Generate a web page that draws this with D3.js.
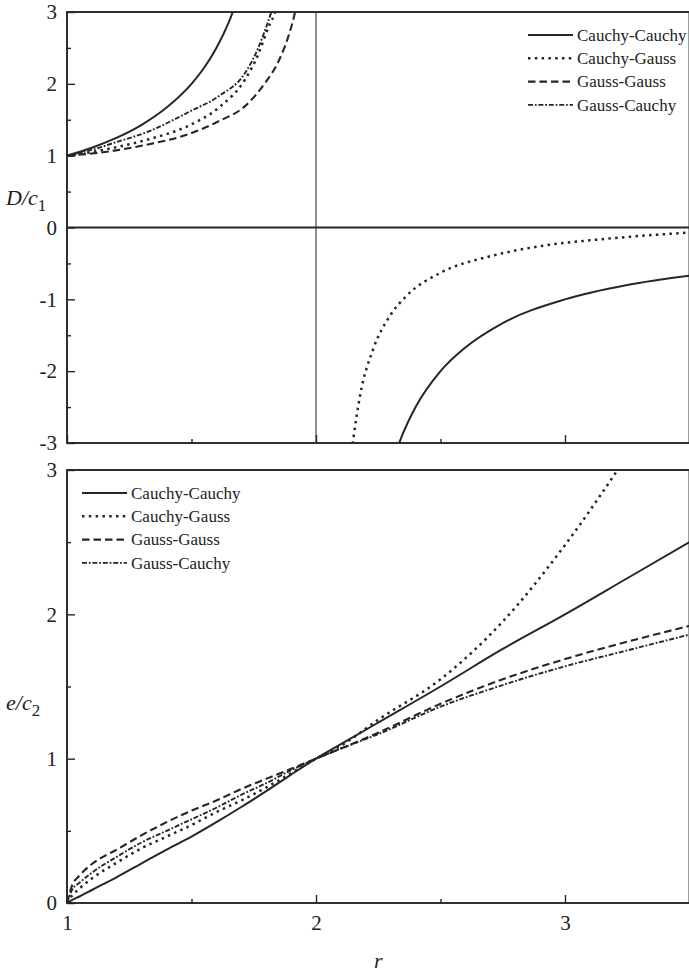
<!DOCTYPE html>
<html>
<head>
<meta charset="utf-8">
<script src="https://cdn.jsdelivr.net/npm/d3@7"></script>
<style>
  html, body { margin: 0; padding: 0; background: #fff; }
  svg { display: block; }
  text { font-family: "Liberation Serif", "DejaVu Serif", serif; fill: #222; }
</style>
</head>
<body>
<svg id="chart" width="689" height="973"></svg>
<script>
// ---- series names (legend order) ----
const seriesNames = ["Cauchy-Cauchy", "Cauchy-Gauss", "Gauss-Gauss", "Gauss-Cauchy"];

// ---- upper panel: D/c1 versus r ----
// Cauchy-Cauchy, branch r < 2 and branch r > 2
const rCCLeft  = [1, 1.1, 1.2, 1.3, 1.4, 1.5, 1.55, 1.6, 1.65, 1.7];
const dCCLeft  = [1, 1.11, 1.25, 1.43, 1.67, 2.0, 2.22, 2.5, 2.86, 3.33];
const rCCRight = [2.3, 2.35, 2.4, 2.5, 2.6, 2.75, 3.0, 3.25, 3.5];
const dCCRight = [-3.33, -2.86, -2.5, -2.0, -1.67, -1.33, -1.0, -0.8, -0.67];
// Cauchy-Gauss
const rCGLeft  = [1, 1.1, 1.2, 1.33, 1.49, 1.61, 1.715, 1.768, 1.808, 1.84, 1.85];
const dCGLeft  = [1, 1.05, 1.12, 1.23, 1.42, 1.67, 2.06, 2.41, 2.78, 3.05, 3.2];
const rCGRight = [2.14, 2.15, 2.177, 2.23, 2.297, 2.364, 2.5, 2.7, 2.9, 3.167, 3.5];
const dCGRight = [-3.2, -2.94, -2.34, -1.69, -1.23, -0.95, -0.63, -0.40, -0.26, -0.157, -0.07];
// Gauss-Gauss
const rGGLeft  = [1, 1.1, 1.19, 1.33, 1.48, 1.61, 1.715, 1.795, 1.849, 1.889, 1.916, 1.93];
const dGGLeft  = [1, 1.03, 1.07, 1.16, 1.29, 1.48, 1.69, 2.01, 2.31, 2.66, 3.0, 3.25];
// Gauss-Cauchy
const rGCLeft  = [1, 1.1, 1.19, 1.33, 1.49, 1.61, 1.715, 1.768, 1.808, 1.83];
const dGCLeft  = [1, 1.08, 1.18, 1.34, 1.61, 1.83, 2.15, 2.5, 2.87, 3.1];

// ---- lower panel: e/c2 versus r ----
const rE  = [1, 1.02, 1.05, 1.1, 1.2, 1.3, 1.4, 1.5, 1.6, 1.7, 1.8, 1.9, 2.0, 2.1, 2.25, 2.5, 2.75, 3.0, 3.25, 3.5];
const eCC = [0, 0.02, 0.045, 0.09, 0.18, 0.275, 0.37, 0.46, 0.56, 0.665, 0.775, 0.89, 1.0, 1.1, 1.25, 1.5, 1.76, 2.0, 2.25, 2.5];
const eGG = [0, 0.12, 0.19, 0.27, 0.37, 0.47, 0.56, 0.64, 0.71, 0.79, 0.86, 0.93, 1.0, 1.07, 1.18, 1.38, 1.55, 1.69, 1.81, 1.92];
const eGC = [0, 0.09, 0.14, 0.21, 0.32, 0.42, 0.5, 0.58, 0.66, 0.75, 0.83, 0.92, 1.0, 1.07, 1.17, 1.36, 1.51, 1.64, 1.75, 1.86];
const rECG = [1, 1.02, 1.05, 1.1, 1.2, 1.3, 1.4, 1.5, 1.6, 1.7, 1.8, 1.9, 2.0, 2.1, 2.25, 2.5, 2.75, 3.0, 3.25];
const eCG  = [0, 0.05, 0.1, 0.17, 0.28, 0.38, 0.46, 0.54, 0.63, 0.71, 0.8, 0.9, 1.0, 1.09, 1.27, 1.55, 1.95, 2.48, 3.1];

// ---- ticks ----
const rMajor = [1, 2, 3];
const rMinor = [1.5, 2.5];
const dMajor = [-3, -2, -1, 0, 1, 2, 3];
const dMinor = [-2.5, -1.5, -0.5, 0.5, 1.5, 2.5];
const eMajor = [0, 1, 2, 3];
const eMinor = [0.5, 1.5, 2.5];

// ---- styles ----
const ink = "#262626";
const styles = {
  "Cauchy-Cauchy": { dash: null,            width: 2.0 },
  "Cauchy-Gauss":  { dash: "2.5,4.3",       width: 2.5 },
  "Gauss-Gauss":   { dash: "7.5,4",         width: 2.1 },
  "Gauss-Cauchy":  { dash: "5,1.8,1.8,1.8", width: 1.9 }
};

const svg = d3.select("#chart");
svg.append("rect").attr("width", 689).attr("height", 973).attr("fill", "#fff");

const x = d3.scaleLinear().domain([1, 3.5]).range([67, 689.5]);
const yTop = d3.scaleLinear().domain([-3, 3]).range([443, 12]);
const yBot = d3.scaleLinear().domain([0, 3]).range([903, 470]);

const zip = (rs, vs) => rs.map((r, i) => [r, vs[i]]);

function panel(id, y, curves, majorY, minorY, showXLabels) {
  const [y0, y1] = y.range();
  const g = svg.append("g");
  svg.append("clipPath").attr("id", id)
    .append("rect").attr("x", x(1)).attr("y", y1).attr("width", x(3.5) - x(1)).attr("height", y0 - y1);

  const line = d3.line().x(d => x(d[0])).y(d => y(d[1])).curve(d3.curveMonotoneX);
  const cg = g.append("g").attr("clip-path", `url(#${id})`);
  curves.forEach(c => {
    const s = styles[c.name];
    cg.append("path").datum(c.pts)
      .attr("d", line).attr("fill", "none").attr("stroke", ink)
      .attr("stroke-width", s.width).attr("stroke-dasharray", s.dash)
      .attr("stroke-linejoin", "round");
  });

  // inward ticks
  const ax = g.append("g").attr("transform", `translate(0,${y0})`);
  ax.call(d3.axisBottom(x).tickValues(rMajor).tickSize(-8).tickPadding(12)
    .tickFormat(showXLabels ? (d => String(d)) : () => ""));
  ax.append("g").call(d3.axisBottom(x).tickValues(rMinor).tickSize(-4).tickFormat(() => ""));
  const ay = g.append("g").attr("transform", `translate(${x(1)},0)`);
  ay.call(d3.axisLeft(y).tickValues(majorY).tickSize(-8).tickPadding(10).tickFormat(d => String(d)));
  ay.append("g").call(d3.axisLeft(y).tickValues(minorY).tickSize(-4).tickFormat(() => ""));
  g.selectAll(".domain").remove();
  g.selectAll(".tick line").attr("stroke", ink).attr("stroke-width", 1.4);
  g.selectAll(".tick text").attr("font-family", "Liberation Serif").attr("font-size", 21).attr("fill", "#222");

  // frame
  g.append("rect").attr("x", x(1)).attr("y", y1).attr("width", x(3.5) - x(1)).attr("height", y0 - y1)
    .attr("fill", "none").attr("stroke", ink).attr("stroke-width", 1.9);
  return g;
}

function legend(g, x0, yFirst) {
  const step = 23.3;
  seriesNames.forEach((name, i) => {
    const s = styles[name];
    const yy = yFirst + i * step;
    g.append("line").attr("x1", x0).attr("x2", x0 + 45).attr("y1", yy).attr("y2", yy)
      .attr("stroke", ink).attr("stroke-width", s.width).attr("stroke-dasharray", s.dash);
    g.append("text").attr("x", x0 + 49).attr("y", yy).attr("dy", "0.33em")
      .attr("font-size", 17).text(name);
  });
}

// upper panel
const upper = panel("clipTop", yTop, [
  { name: "Cauchy-Cauchy", pts: zip(rCCLeft, dCCLeft) },
  { name: "Cauchy-Cauchy", pts: zip(rCCRight, dCCRight) },
  { name: "Cauchy-Gauss",  pts: zip(rCGLeft, dCGLeft) },
  { name: "Cauchy-Gauss",  pts: zip(rCGRight, dCGRight) },
  { name: "Gauss-Gauss",   pts: zip(rGGLeft, dGGLeft) },
  { name: "Gauss-Cauchy",  pts: zip(rGCLeft, dGCLeft) }
], dMajor, dMinor, false);
// zero line and the asymptote at r = 2
upper.append("line").attr("x1", x(1)).attr("x2", x(3.5)).attr("y1", yTop(0)).attr("y2", yTop(0))
  .attr("stroke", ink).attr("stroke-width", 1.9);
upper.append("line").attr("x1", x(2)).attr("x2", x(2)).attr("y1", yTop(3)).attr("y2", yTop(-3))
  .attr("stroke", "#333").attr("stroke-width", 1.1);
legend(upper, 528, 35);

// lower panel
const lower = panel("clipBot", yBot, [
  { name: "Cauchy-Cauchy", pts: zip(rE, eCC) },
  { name: "Cauchy-Gauss",  pts: zip(rECG, eCG) },
  { name: "Gauss-Gauss",   pts: zip(rE, eGG) },
  { name: "Gauss-Cauchy",  pts: zip(rE, eGC) }
], eMajor, eMinor, true);
legend(lower, 82, 493);

// axis titles
const t1 = svg.append("text").attr("x", 6).attr("y", 205).attr("font-size", 22);
t1.append("tspan").attr("font-style", "italic").text("D/c");
t1.append("tspan").attr("font-size", 17).attr("dy", 6).text("1");
const t2 = svg.append("text").attr("x", 6).attr("y", 710).attr("font-size", 22);
t2.append("tspan").attr("font-style", "italic").text("e/c");
t2.append("tspan").attr("font-size", 17).attr("dy", 6).text("2");
svg.append("text").attr("x", x(2.25)).attr("y", 968).attr("text-anchor", "middle")
  .attr("font-size", 22).attr("font-style", "italic").text("r");
</script>
</body>
</html>
